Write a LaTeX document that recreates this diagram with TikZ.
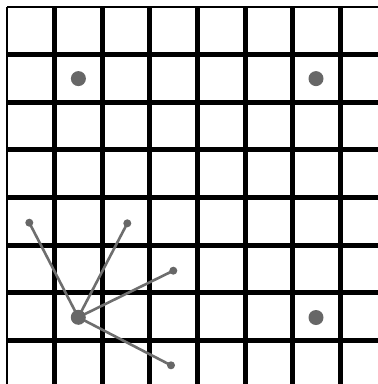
\documentclass[tikz,border=0pt]{standalone}
\usetikzlibrary{backgrounds}
\definecolor{dotgray}{HTML}{676767}
\definecolor{linegray}{HTML}{6E6E6E}
\begin{document}
\begin{tikzpicture}[x=1pt,y=-1pt,
  gridline/.style={line width=5pt,black},
  borderline/.style={line width=2.2pt,black},
  bigdot/.style={circle,fill=dotgray,inner sep=0pt,minimum size=15pt},
  smalldot/.style={circle,fill=dotgray,inner sep=0pt,minimum size=8pt},
  spoke/.style={line width=2.6pt,draw=linegray}]
\useasboundingbox (0,0) rectangle (378,384);
% dots
\node[bigdot] (d1) at (78.4,78.6) {};
\node[bigdot] (d2) at (316,78.6) {};
\node[bigdot] (d3) at (316,317.5) {};
\node[bigdot] (c) at (78.3,317.3) {};
\node[smalldot] (s1) at (29.3,222.7) {};
\node[smalldot] (s2) at (127.3,223.3) {};
\node[smalldot] (s3) at (173.3,270.7) {};
\node[smalldot] (s4) at (171,365.3) {};
\begin{pgfonlayer}{background}
\fill[white] (0,0) rectangle (378,384);
% border lines
\draw[borderline] (7,7) -- (378,7);
\draw[borderline] (7,7) -- (7,384);
% grid
\foreach \i in {1,...,7} {
  \draw[gridline] ({7+47.6*\i},7) -- ({7+47.6*\i},384);
  \draw[gridline] (7,{7+47.6*\i}) -- (378,{7+47.6*\i});
}
% spokes
\draw[spoke] (c.center) -- (s1.center);
\draw[spoke] (c.center) -- (s2.center);
\draw[spoke] (c.center) -- (s3.center);
\draw[spoke] (c.center) -- (s4.center);
\end{pgfonlayer}
\end{tikzpicture}
\end{document}
